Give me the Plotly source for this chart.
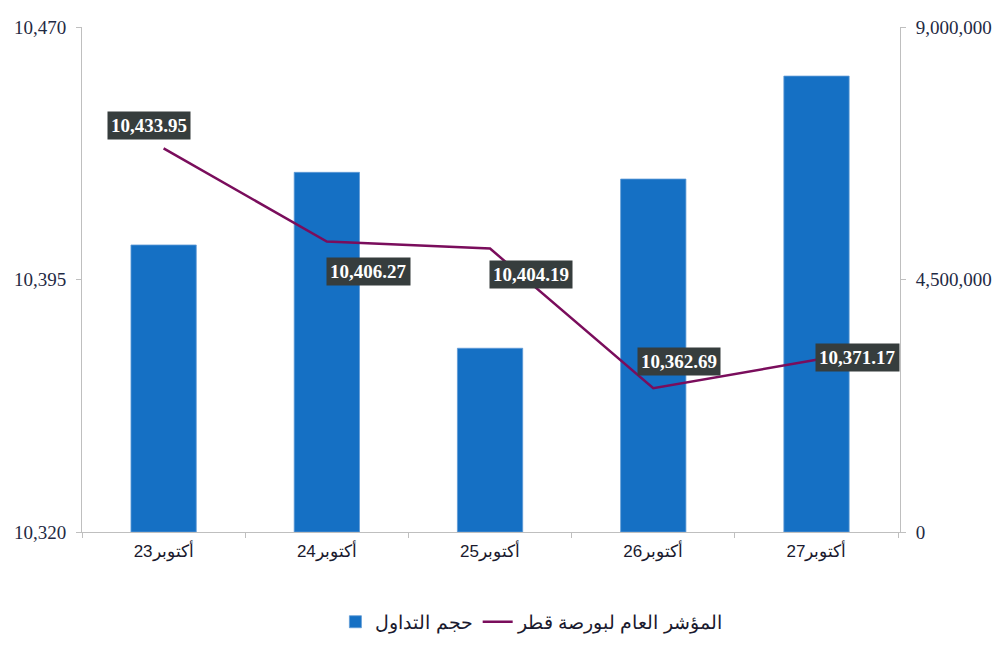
import plotly.graph_objects as go

categories = ["أكتوبر23", "أكتوبر24", "أكتوبر25", "أكتوبر26", "أكتوبر27"]
volume = [5115000, 6410000, 3275000, 6290000, 8125000]
index_values = [10433.95, 10406.27, 10404.19, 10362.69, 10371.17]
index_labels = ["10,433.95", "10,406.27", "10,404.19", "10,362.69", "10,371.17"]
bar_name = "حجم التداول"
line_name = "المؤشر العام لبورصة قطر"

# label offsets (pixels) relative to each point
label_dx = [-15, 42, 41, 26, 41]
label_dy = [23, -30, -26, 27, 2]

fig = go.Figure()
fig.add_trace(go.Bar(
    x=categories, y=volume, name=bar_name, yaxis="y",
    marker=dict(color="#1570c4", line=dict(color="#5f9ad6", width=0.8)),
    width=0.4,
))
fig.add_trace(go.Scatter(
    x=categories, y=index_values, name=line_name, yaxis="y2",
    mode="lines", line=dict(color="#7a0d5c", width=2.5),
))

for c, v, t, dx, dy in zip(categories, index_values, index_labels, label_dx, label_dy):
    fig.add_annotation(
        x=c, y=v, xref="x", yref="y2", text="<b>" + t + "</b>", showarrow=False,
        xshift=dx, yshift=dy, bgcolor="#363d3d", borderpad=3,
        font=dict(family="Liberation Serif", size=19, color="white"),
    )

axis_font = dict(family="Liberation Serif", size=19, color="#1f2a44")
fig.update_layout(
    width=1000, height=653,
    margin=dict(l=82, r=100, t=27, b=121, autoexpand=False),
    plot_bgcolor="white", paper_bgcolor="white",
    showlegend=True,
    legend=dict(orientation="h", x=0.55, xanchor="center", y=-0.178, yanchor="middle",
                font=dict(family="Liberation Sans", size=19, color="#1a1a2e"),
                itemwidth=30, traceorder="normal"),
    xaxis=dict(
        type="category", showline=True, linecolor="#bfbfbf", linewidth=1,
        ticks="outside", tickson="boundaries", ticklen=5, tickcolor="#bfbfbf",
        tickfont=dict(family="Liberation Sans", size=17, color="#1a1a2e"),
        ticklabelstandoff=4, showgrid=False, automargin=False,
    ),
    yaxis=dict(
        side="right", range=[0, 9000000], tickvals=[0, 4500000, 9000000],
        tickformat=",d", showline=True, linecolor="#bfbfbf", linewidth=1,
        ticks="outside", ticklen=5, tickcolor="#bfbfbf", showgrid=False,
        zeroline=False, tickfont=axis_font, ticklabelstandoff=6, automargin=False,
    ),
    yaxis2=dict(
        side="left", overlaying="y", range=[10320, 10470],
        tickvals=[10320, 10395, 10470], tickformat=",d",
        showline=True, linecolor="#bfbfbf", linewidth=1,
        ticks="outside", ticklen=5, tickcolor="#bfbfbf", showgrid=False,
        zeroline=False, tickfont=axis_font, ticklabelstandoff=6, automargin=False,
    ),
    bargap=0.6,
)

fig.write_html("out.html")
